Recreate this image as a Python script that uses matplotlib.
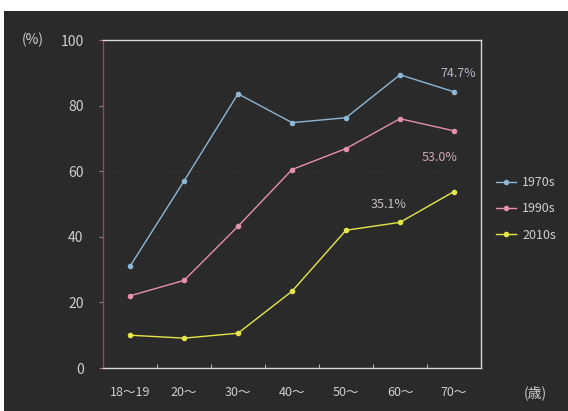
import matplotlib
matplotlib.use("Agg")
import matplotlib.pyplot as plt
from matplotlib.patches import Rectangle

plt.rcParams['font.family'] = ['Noto Sans CJK JP', 'DejaVu Sans']

categories = ["18～19", "20～", "30～", "40～", "50～", "60～", "70～"]
s1970 = [31, 57, 83.6, 74.8, 76.3, 89.4, 84.2]
s1990 = [22, 26.7, 43.2, 60.5, 66.9, 76, 72.3]
s2010 = [10, 9.1, 10.6, 23.4, 42, 44.4, 53.8]
series_names = ["1970s", "1990s", "2010s"]
annotations = ["74.7%", "53.0%", "35.1%"]
yticks = [0, 20, 40, 60, 80, 100]

colors = ["#8fb6d3", "#e590b0", "#e6e64c"]
bg = "#2a2a2a"
txt = "#cfcfcf"

W, H = 568, 411
fig = plt.figure(figsize=(W / 100, H / 100), dpi=100)
fig.patch.set_facecolor("white")
fig.add_artist(Rectangle((4 / W, 0), 1 - 4 / W, (H - 11) / H, transform=fig.transFigure,
                         facecolor=bg, edgecolor="none", zorder=0))

ax = fig.add_axes([103 / W, (H - 368) / H, (481 - 103) / W, (368 - 40) / H])
ax.set_facecolor("none")

x = list(range(len(categories)))
for vals, name, c in zip([s1970, s1990, s2010], series_names, colors):
    ax.plot(x, vals, color=c, lw=1.0, marker="o", ms=3, label=name)

ax.set_xlim(-0.5, len(categories) - 0.5)
ax.set_ylim(0, 100)
ax.set_yticks(yticks)
ax.set_yticklabels([str(v) for v in yticks], color=txt, fontsize=10)
ax.set_xticks(x)
ax.set_xticklabels(categories, color=txt, fontsize=9)
ax.tick_params(axis="x", length=0, pad=13)
ax.tick_params(axis="y", length=3, color="#b07080", pad=11)
ax.set_xticks([i + 0.5 for i in x[:-1]], minor=True)
ax.tick_params(axis="x", which="minor", length=3, color="#cfcfcf", direction="in")

for sp in ["top", "right", "bottom"]:
    ax.spines[sp].set_color("#d8d8d8")
    ax.spines[sp].set_linewidth(1.0)
ax.spines["left"].set_color("#8a4a5a")
ax.spines["left"].set_linewidth(1.0)

for yv in yticks[1:-1]:
    ax.axhline(yv, color="#5a3a44", lw=0.5, ls=(0, (1, 3)), zorder=0)

ann_pos = [(6.07, 89.9), (5.74, 64.3), (4.78, 49.7)]
ann_colors = ["#b0b8c8", "#d0a8b8", "#c8c0c0"]
for t, (ax_x, ax_y), c in zip(annotations, ann_pos, ann_colors):
    ax.text(ax_x, ax_y, t, color=c, fontsize=9, ha="center", va="center")

fig.text(33 / W, 1 - 40 / H, "(%)", color=txt, fontsize=10, ha="center", va="center")
fig.text(535 / W, 1 - 393 / H, "(歳)", color=txt, fontsize=10, ha="center", va="center")

leg = ax.legend(loc="center left", bbox_to_anchor=(1.01, 0.485), frameon=False,
                fontsize=9, labelcolor=txt, handlelength=1.6, labelspacing=1.05,
                handletextpad=0.5)

fig.savefig("out.png", dpi=100, facecolor=fig.get_facecolor())
